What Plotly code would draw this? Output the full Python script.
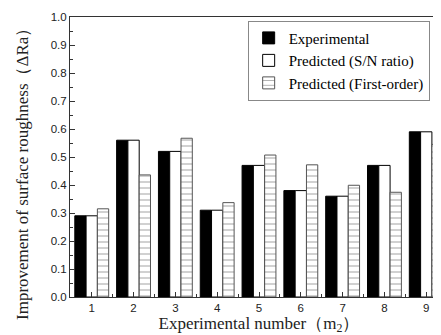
import plotly.graph_objects as go

runs = [1, 2, 3, 4, 5, 6, 7, 8, 9]
experimental = [0.29, 0.56, 0.52, 0.31, 0.47, 0.38, 0.36, 0.47, 0.59]
predicted_sn = [0.29, 0.56, 0.52, 0.31, 0.47, 0.38, 0.36, 0.47, 0.59]
predicted_first = [0.315, 0.436, 0.567, 0.337, 0.507, 0.472, 0.399, 0.374, 0.545]

fig = go.Figure()
fig.add_bar(x=runs, y=experimental, name="Experimental",
            marker=dict(color="black", line=dict(color="black", width=1)))
fig.add_bar(x=runs, y=predicted_sn, name="Predicted (S/N ratio)",
            marker=dict(color="white", line=dict(color="black", width=1)))
fig.add_bar(x=runs, y=predicted_first, name="Predicted (First-order)",
            marker=dict(color="white", line=dict(color="#555", width=1),
                        pattern=dict(shape="-", fgcolor="#555", bgcolor="white",
                                     size=6, solidity=0.18)))

fig.update_layout(
    width=441, height=335,
    margin=dict(l=62, r=1, t=9, b=46, autoexpand=False),
    paper_bgcolor="white", plot_bgcolor="white",
    barmode="group", bargap=0.19, bargroupgap=0,
    showlegend=True,
    legend=dict(x=0.47, y=0.987, xanchor="left", yanchor="top",
                bordercolor="#888", borderwidth=1, bgcolor="white",
                font=dict(family="Liberation Serif", size=15, color="black"),
                tracegroupgap=0, itemwidth=30),
    font=dict(family="Liberation Sans", size=11.5, color="#222"),
    annotations=[dict(
        text="Improvement of surface roughness\uff08\u0394Ra\uff09",
        xref="paper", yref="paper", x=-0.124, y=0.454,
        xanchor="center", yanchor="middle", textangle=-90, showarrow=False,
        font=dict(family="Liberation Serif", size=17, color="#222"))],
)
fig.update_xaxes(
    range=[0.48, 9.52], tickvals=runs, ticktext=[str(r) for r in runs],
    ticks="inside", ticklen=5, tickcolor="#333",
    minor=dict(ticks="inside", ticklen=3, tick0=0.5, dtick=1, tickcolor="#333"),
    showline=True, linecolor="#333", linewidth=1, mirror=True,
    showgrid=False, zeroline=False,
    title=dict(text="Experimental number\uff08m<sub>2</sub>\uff09", standoff=3,
               font=dict(family="Liberation Serif", size=17, color="#222")),
    tickfont=dict(size=11.5, color="#222"),
)
fig.update_yaxes(
    range=[0, 1.0], dtick=0.1, tickformat=".1f",
    ticks="inside", ticklen=5, tickcolor="#333",
    minor=dict(ticks="inside", ticklen=3, dtick=0.05, tickcolor="#333"),
    showline=True, linecolor="#333", linewidth=1, mirror=True,
    showgrid=False, zeroline=False,
    tickfont=dict(size=11.5, color="#222"),
)

fig.write_html("out.html")
